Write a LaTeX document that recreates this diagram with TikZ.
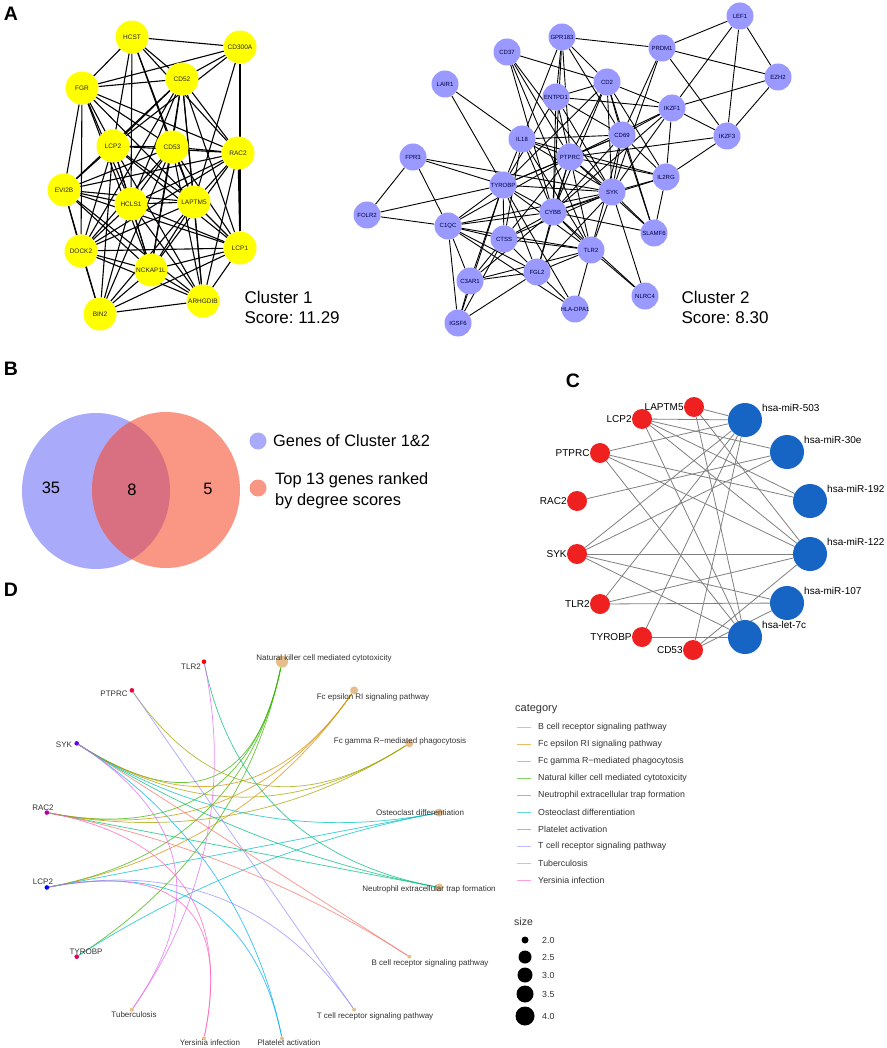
\documentclass[tikz,border=0pt]{standalone}
\usepackage{fontspec}
\setmainfont{Liberation Sans}
\usetikzlibrary{backgrounds,calc}
\frenchspacing
\definecolor{yel}{RGB}{255,255,0}
\definecolor{lav}{RGB}{153,153,255}
\definecolor{vblue}{RGB}{170,170,250}
\definecolor{vred}{RGB}{250,150,132}
\definecolor{vmix}{RGB}{216,112,130}
\definecolor{mirred}{RGB}{238,32,32}
\definecolor{mirblue}{RGB}{22,100,195}
\definecolor{ptan}{RGB}{229,190,140}
\definecolor{cBc}{HTML}{F8766D}
\definecolor{cFe}{HTML}{D89000}
\definecolor{cFg}{HTML}{A3A500}
\definecolor{cNk}{HTML}{39B600}
\definecolor{cNe}{HTML}{00BF7D}
\definecolor{cOs}{HTML}{00BFC4}
\definecolor{cPl}{HTML}{00B0F6}
\definecolor{cTc}{HTML}{9590FF}
\definecolor{cTb}{HTML}{E76BF3}
\definecolor{cYe}{HTML}{FF62BC}
\definecolor{gTl}{HTML}{FF0000}
\definecolor{gPt}{HTML}{F0003C}
\definecolor{gSy}{HTML}{6A00F0}
\definecolor{gRa}{HTML}{B000B0}
\definecolor{gLc}{HTML}{0000FF}
\definecolor{gTy}{HTML}{E0005A}
\newcommand\fsz[1]{\fontsize{#1}{#1}\selectfont}
\begin{document}
\begin{tikzpicture}[x=1pt,y=-1pt,
 panlab/.style={font=\fsz{19.5}\bfseries},
 yelnode/.style={circle,fill=yel,minimum size=33pt,inner sep=-4pt,font=\fsz{6.5},text=black!85},
 lavnode/.style={circle,fill=lav,minimum size=27pt,inner sep=-5pt,font=\fsz{6},text=blue!25!black},
 c1edge/.style={line width=1.1pt},
 c2edge/.style={line width=0.9pt},
 bigtext/.style={font=\fsz{17},anchor=west},
 mirgene/.style={circle,fill=mirred,minimum size=20pt,inner sep=0pt},
 mirna/.style={circle,fill=mirblue,minimum size=34pt,inner sep=0pt},
 mirlab/.style={font=\fsz{10},inner sep=0pt},
 miredge/.style={draw=black!50,line width=0.8pt},
 dlab/.style={font=\fsz{8},text=black!80,inner sep=0pt},
 pathedge/.style={line width=0.75pt,draw opacity=0.75},
 legtext/.style={font=\fsz{8.8},text=black!80,anchor=west,inner sep=0pt}]
\useasboundingbox (0,0) rectangle (886,1048);
\begin{scope}[on background layer]
\fill[white] (0,0) rectangle (886,1048);
\end{scope}
\foreach \t/\x/\y in {A/11/14,B/11/369,C/573/381,D/11/590}
 \node[panlab] (lab\t) at (\x,\y) {\t};
% A: cluster 1
\foreach \n/\x/\y in {HCST/132/37,CD300A/240/47,FGR/82/88,CD52/182/79,LCP2/113/146,CD53/172/147,RAC2/238/153,EVI2B/64/190,HCLS1/131/204,LAPTM5/194/202,DOCK2/81/251,LCP1/240/248,NCKAP1L/151/270,ARHGDIB/203/301,BIN2/100/314}
 \node[yelnode] (a\n) at (\x,\y) {\n};
\begin{scope}[on background layer]
\foreach \u/\v in {HCST/CD300A,HCST/FGR,HCST/CD52,HCST/LCP2,HCST/CD53,HCST/HCLS1,HCST/RAC2,HCST/LAPTM5,
 CD300A/FGR,CD300A/CD52,CD300A/LCP2,CD300A/LAPTM5,CD300A/LCP1,
 FGR/CD52,FGR/LCP2,FGR/HCLS1,FGR/RAC2,FGR/LAPTM5,FGR/EVI2B,FGR/DOCK2,FGR/NCKAP1L,FGR/CD53,
 CD52/LCP2,CD52/CD53,CD52/HCLS1,CD52/LAPTM5,CD52/RAC2,CD52/NCKAP1L,CD52/EVI2B,CD52/ARHGDIB,CD52/LCP1,CD52/DOCK2,
 LCP2/CD53,LCP2/RAC2,LCP2/EVI2B,LCP2/HCLS1,LCP2/LAPTM5,LCP2/DOCK2,LCP2/NCKAP1L,LCP2/BIN2,LCP2/LCP1,LCP2/ARHGDIB,
 CD53/RAC2,CD53/HCLS1,CD53/LAPTM5,CD53/EVI2B,CD53/DOCK2,CD53/NCKAP1L,CD53/ARHGDIB,CD53/LCP1,CD53/BIN2,
 RAC2/EVI2B,RAC2/HCLS1,RAC2/LAPTM5,RAC2/DOCK2,RAC2/NCKAP1L,RAC2/ARHGDIB,RAC2/LCP1,
 EVI2B/HCLS1,EVI2B/LAPTM5,EVI2B/DOCK2,EVI2B/NCKAP1L,EVI2B/LCP1,EVI2B/ARHGDIB,EVI2B/BIN2,
 HCLS1/LAPTM5,HCLS1/DOCK2,HCLS1/NCKAP1L,HCLS1/ARHGDIB,HCLS1/BIN2,HCLS1/LCP1,
 LAPTM5/DOCK2,LAPTM5/LCP1,LAPTM5/NCKAP1L,LAPTM5/ARHGDIB,LAPTM5/BIN2,
 DOCK2/LCP1,DOCK2/NCKAP1L,DOCK2/ARHGDIB,DOCK2/BIN2,
 LCP1/NCKAP1L,LCP1/ARHGDIB,LCP1/BIN2,NCKAP1L/ARHGDIB,NCKAP1L/BIN2,ARHGDIB/BIN2}
 \draw[c1edge] (a\u) -- (a\v);
\end{scope}
\node[bigtext] (cl1) at (241,297) {Cluster 1};
\node[bigtext] (sc1) at (241,318) {Score: 11.29};
% A: cluster 2
\foreach \n/\x/\y in {LEF1/740/16,GPR183/562/37,PRDM1/662/48,CD37/507/52,EZH2/778/77,CD2/607/82,LAIR1/445/84,ENTPD1/556/97,IKZF1/672/108,IKZF3/727/136,CD69/622/135,IL18/522/139,PTPRC/570/157,FPR3/413/157,IL2RG/666/177,TYROBP/503/185,SYK/612/192,CYBB/553/212,FOLR2/367/215,C1QC/448/226,SLAMF6/654/233,CTSS/504/239,TLR2/591/250,FGL2/537/272,C3AR1/470/281,NLRC4/645/296,HLA-DPA1/575/309,IGSF6/458/323}
 \node[lavnode] (b\n) at (\x,\y) {\n};
\begin{scope}[on background layer]
\foreach \u/\v in {LEF1/PRDM1,LEF1/EZH2,LEF1/IKZF1,LEF1/IKZF3,
 PRDM1/GPR183,PRDM1/EZH2,PRDM1/IKZF3,PRDM1/CD69,PRDM1/SYK,EZH2/IKZF1,EZH2/IKZF3,
 GPR183/ENTPD1,GPR183/CD2,GPR183/IL18,GPR183/PTPRC,GPR183/CD69,GPR183/CYBB,
 CD37/CD2,CD37/PTPRC,CD37/SYK,CD37/CYBB,CD37/TLR2,
 CD2/IKZF1,CD2/CD69,CD2/SYK,CD2/IL2RG,CD2/SLAMF6,CD2/PTPRC,CD2/TYROBP,CD2/CYBB,CD2/ENTPD1,
 ENTPD1/IKZF1,ENTPD1/CD69,ENTPD1/PTPRC,ENTPD1/CYBB,ENTPD1/TYROBP,ENTPD1/SYK,
 LAIR1/IL18,LAIR1/TYROBP,
 IKZF1/CD69,IKZF1/IKZF3,IKZF1/IL2RG,IKZF1/SYK,IKZF1/PTPRC,IKZF1/CYBB,IKZF3/IL2RG,IKZF3/PTPRC,
 CD69/IL18,CD69/PTPRC,CD69/SYK,CD69/IL2RG,CD69/SLAMF6,CD69/TLR2,CD69/TYROBP,CD69/CYBB,
 IL18/PTPRC,IL18/TYROBP,IL18/CYBB,IL18/SYK,IL18/TLR2,IL18/CTSS,IL18/IL2RG,
 PTPRC/TYROBP,PTPRC/SYK,PTPRC/CYBB,PTPRC/IL2RG,PTPRC/CTSS,PTPRC/TLR2,PTPRC/FGL2,PTPRC/C1QC,PTPRC/SLAMF6,
 FPR3/FOLR2,FPR3/C1QC,FPR3/TYROBP,FPR3/SYK,
 TYROBP/FOLR2,TYROBP/C1QC,TYROBP/CTSS,TYROBP/CYBB,TYROBP/SYK,TYROBP/TLR2,TYROBP/FGL2,TYROBP/C3AR1,TYROBP/IGSF6,TYROBP/HLA-DPA1,
 SYK/IL2RG,SYK/CYBB,SYK/TLR2,SYK/SLAMF6,SYK/NLRC4,SYK/FGL2,SYK/CTSS,SYK/C1QC,IL2RG/SLAMF6,IL2RG/CYBB,
 CYBB/CTSS,CYBB/TLR2,CYBB/FGL2,CYBB/C1QC,CYBB/C3AR1,CYBB/SLAMF6,CYBB/NLRC4,FOLR2/C1QC,
 C1QC/CTSS,C1QC/FGL2,C1QC/C3AR1,C1QC/IGSF6,C1QC/HLA-DPA1,C1QC/TLR2,
 CTSS/TLR2,CTSS/FGL2,CTSS/C3AR1,CTSS/IGSF6,TLR2/FGL2,TLR2/NLRC4,TLR2/C3AR1,TLR2/HLA-DPA1,
 FGL2/C3AR1,FGL2/HLA-DPA1,FGL2/IGSF6,C3AR1/IGSF6}
 \draw[c2edge] (b\u) -- (b\v);
\end{scope}
\node[bigtext] (cl2) at (678,297) {Cluster 2};
\node[bigtext] (sc2) at (678,318) {Score: 8.30};
% B: venn
\fill[vblue] (96,491) ellipse [x radius=74pt,y radius=78pt];
\fill[vred] (166,490) ellipse [x radius=74pt,y radius=78pt];
\begin{scope}
\clip (96,491) ellipse [x radius=74pt,y radius=78pt];
\fill[vmix] (166,490) ellipse [x radius=74pt,y radius=78pt];
\end{scope}
\foreach \t/\x/\y in {35/51/488,8/132/490,5/208/489}
 \node[font=\fsz{16.5}] (vn\t) at (\x,\y) {\t};
\node[circle,fill=vblue,minimum size=17pt,inner sep=0pt] (bkey1) at (258,441) {};
\node[circle,fill=vred,minimum size=17pt,inner sep=0pt] (bkey2) at (258,488) {};
\node[font=\fsz{16.4},anchor=west,inner sep=0pt] (bkey1t) at (273,441) {Genes of Cluster 1\&2};
\node[font=\fontsize{16.4}{21}\selectfont,anchor=west,align=left,inner sep=0pt] (bkey2t) at (275,491) {Top 13 genes ranked\\by degree scores};
% C: miRNA network
\foreach \n/\x/\y in {LAPTM5/694/407,LCP2/642/419,PTPRC/600/453,RAC2/577/501,SYK/577/554,TLR2/600/604,TYROBP/642/637,CD53/693/650}
 {\node[mirgene] (c\n) at (\x,\y) {};
 \node[mirlab,anchor=east] (c\n-t) at (c\n.west) {\n};}
\foreach \m/\t/\x/\y in {503/hsa-miR-503/745/420,30e/hsa-miR-30e/787/452,192/hsa-miR-192/810/501,122/hsa-miR-122/810/554,107/hsa-miR-107/787/603,let/hsa-let-7c/745/637}
 {\node[mirna] (c\m) at (\x,\y) {};
 \node[mirlab,anchor=west] (c\m-t) at ($(c\m)+(17,-12)$) {\t};}
\begin{scope}[on background layer]
\foreach \u/\v in {LAPTM5/503,LAPTM5/122,LAPTM5/let,LCP2/503,LCP2/30e,LCP2/192,LCP2/122,LCP2/let,
 PTPRC/503,PTPRC/192,PTPRC/122,PTPRC/let,RAC2/30e,SYK/503,SYK/30e,SYK/122,SYK/107,SYK/let,
 TLR2/503,TLR2/122,TLR2/107,TYROBP/503,TYROBP/let,CD53/503,CD53/107,CD53/122}
 \draw[miredge] (c\u) -- (c\v);
\end{scope}
% D: pathway network
\coordinate (dctr) at (243,850);
\foreach \nm/\k/\col in {TLR2/0/gTl,PTPRC/1/gPt,SYK/2/gSy,RAC2/3/gRa,LCP2/4/gLc,TYROBP/5/gTy}
 \node[circle,fill=\col,minimum size=4.6pt,inner sep=0pt] (d\nm) at ({243+200*cos(101.25+22.5*\k)},{850-192*sin(101.25+22.5*\k)}) {};
\foreach \nm/\k/\s in {Tb/6/4,Ye/7/4,Pl/8/4,Tc/9/4,Bc/10/4,Ne/11/8,Os/12/8,Fg/13/8,Fe/14/8,Nk/15/12}
 \node[circle,fill=ptan,minimum size=\s pt,inner sep=0pt] (d\nm) at ({243+200*cos(101.25+22.5*\k)},{850-192*sin(101.25+22.5*\k)}) {};
\foreach \nm/\x/\y in {TLR2/191/667,PTPRC/114/694,SYK/64/745,RAC2/43/808,LCP2/43/882,TYROBP/86/952}
 \node[dlab] (d\nm-t) at (\x,\y) {\nm};
\foreach \nm/\x/\y/\t in {Nk/324/658/Natural killer cell mediated cytotoxicity,Fe/373/697/Fc epsilon RI signaling pathway,Fg/400/741/Fc gamma R−mediated phagocytosis,Os/420/813/Osteoclast differentiation,Ne/429/889/Neutrophil extracellular trap formation,Bc/430/963/B cell receptor signaling pathway,Tc/375/1016/T cell receptor signaling pathway,Pl/289/1043/Platelet activation,Ye/210/1043/Yersinia infection,Tb/134/1015/Tuberculosis}
 \node[dlab] (d\nm-t) at (\x,\y) {\t};
\begin{scope}[on background layer]
\foreach \g/\p/\c in {SYK/Nk/cNk,RAC2/Nk/cNk,LCP2/Nk/cNk,TYROBP/Nk/cNk,SYK/Fe/cFe,RAC2/Fe/cFe,LCP2/Fe/cFe,
 PTPRC/Fg/cFg,SYK/Fg/cFg,RAC2/Fg/cFg,SYK/Os/cOs,LCP2/Os/cOs,TYROBP/Os/cOs,TLR2/Ne/cNe,SYK/Ne/cNe,RAC2/Ne/cNe,
 SYK/Bc/cBc,RAC2/Bc/cBc,PTPRC/Tc/cTc,LCP2/Tc/cTc,SYK/Pl/cPl,LCP2/Pl/cPl,TLR2/Tb/cTb,SYK/Tb/cTb,RAC2/Ye/cYe,LCP2/Ye/cYe}
 \draw[pathedge,draw=\c] (d\g) .. controls ($(d\g)!0.667!(dctr)$) and ($(d\p)!0.667!(dctr)$) .. (d\p);
\end{scope}
\node[font=\fsz{11},text=black!80,anchor=west,inner sep=0pt] (dcat) at (515,709) {category};
\foreach \c/\t [count=\i from 0] in {cBc/B cell receptor signaling pathway,cFe/Fc epsilon RI signaling pathway,cFg/Fc gamma R−mediated phagocytosis,cNk/Natural killer cell mediated cytotoxicity,cNe/Neutrophil extracellular trap formation,cOs/Osteoclast differentiation,cPl/Platelet activation,cTc/T cell receptor signaling pathway,cTb/Tuberculosis,cYe/Yersinia infection}
 {\draw[draw=\c!60,line width=1.5pt] (517,{727.5+17*\i}) -- (531,{727.5+17*\i});
 \node[legtext] (dleg\i) at (538,{727.5+17*\i}) {\t};}
\node[font=\fsz{10.5},text=black!80,anchor=west,inner sep=0pt] (dsize) at (514,922) {size};
\foreach \t/\d/\y in {2.0/7/940,2.5/13/957,3.0/15/975,3.5/17/994,4.0/19/1016}
 {\node[circle,fill=black,minimum size=\d pt,inner sep=0pt] (ds\t) at (525,\y) {};
 \node[legtext] (ds\t-t) at (542,\y) {\t};}
\end{tikzpicture}
\end{document}
